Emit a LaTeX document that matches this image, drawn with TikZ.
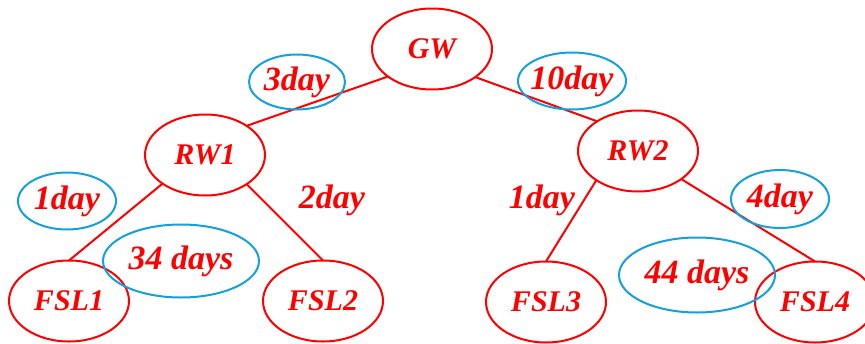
\documentclass[tikz,border=0pt]{standalone}
\usepackage{fontspec}
\setmainfont{Liberation Serif}
\usetikzlibrary{shapes.geometric}
\definecolor{treered}{RGB}{255,0,0}
\definecolor{tagblue}{RGB}{20,160,220}
\begin{document}
\begin{tikzpicture}[x=1pt,y=-1pt,
  every node/.style={font=\fontsize{30}{34}\selectfont\bfseries\itshape, text=treered, inner sep=0pt, outer sep=0pt},
  site/.style={ellipse, draw=treered, line width=2pt, minimum width=120pt, minimum height=81pt},
  delay/.style={font=\fontsize{34}{38}\selectfont\bfseries\itshape},
  tag/.style={delay, ellipse, draw=tagblue, line width=2pt, inner xsep=-12pt, inner ysep=-4pt},
  link/.style={draw=treered, line width=2pt}]
\useasboundingbox (0,0) rectangle (865,343);
% tree nodes
\node[site] (gw)   at (432,49)  {GW};
\node[site] (rw1)  at (205,155) {RW1};
\node[site] (rw2)  at (638,151) {RW2};
\node[site] (fsl1) at (69,301)  {FSL1};
\node[site] (fsl2) at (323,301) {FSL2};
\node[site] (fsl3) at (546,302) {FSL3};
\node[site] (fsl4) at (815,302) {FSL4};
% links
\draw[link] (gw.212) -- (rw1.35);
\draw[link] (gw.-33) -- (rw2.144);
\draw[link] (rw1.214) -- (fsl1.90);
\draw[link] (rw1.-35) -- (fsl2.90);
\draw[link] (rw2.215) -- (fsl3.90);
\draw[link] (rw2.-33) -- (fsl4.90);
% delay labels
\node[tag, minimum width=96pt, minimum height=55pt] (d3)  at (297,82)  {3day};
\node[tag, minimum width=108pt, minimum height=57pt] (d10) at (572,81)  {10day};
\node[tag, minimum width=98pt, minimum height=57pt] (d1a) at (67,201)  {1day};
\node[delay] (d2) at (332,200) {2day};
\node[tag, minimum width=156pt, minimum height=73pt] (d34) at (181,261) {34 days};
\node[delay] (d1b) at (542,200) {1day};
\node[tag, minimum width=98pt, minimum height=58pt] (d4)  at (780,199) {4day};
\node[tag, minimum width=156pt, minimum height=75pt] (d44) at (697,275) {44 days};
\end{tikzpicture}
\end{document}
